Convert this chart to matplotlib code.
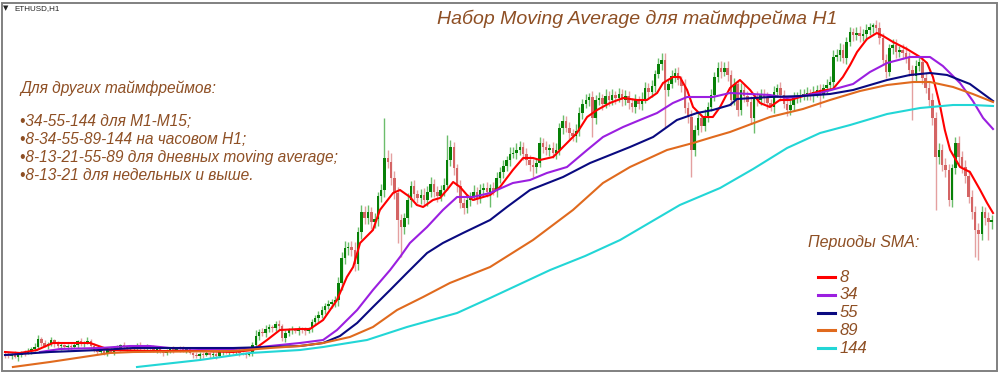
import matplotlib
matplotlib.use('Agg')
import matplotlib.pyplot as plt
from matplotlib.patches import Rectangle
from matplotlib.lines import Line2D

plt.rcParams['font.family'] = ['Liberation Sans', 'DejaVu Sans']

# ---------------- data (price units, one candle per hour) ----------------
first_open = 19
close = [
    18, 17, 19, 16, 18, 21, 20, 22, 24, 26,
    34, 30, 27, 29, 33, 29, 27, 28, 26, 27,
    26, 28, 32, 29, 30, 32, 27, 23, 21, 22,
    20, 23, 21, 24, 25, 28, 26, 24, 25, 26,
    28, 25, 24, 26, 25, 23, 24, 21, 20, 22,
    24, 23, 25, 24, 23, 24, 20, 18, 17, 19,
    18, 20, 18, 19, 17, 21, 22, 21, 23, 21,
    22, 20, 19, 18, 20, 28, 37, 41, 40, 44,
    46, 45, 49, 47, 35, 40, 43, 44, 42, 44,
    43, 42, 45, 51, 55, 58, 63, 67, 69, 71,
    73, 90, 115, 125, 126, 123, 109, 141, 161, 155,
    161, 151, 154, 177, 183, 215, 211, 195, 180, 153,
    146, 155, 173, 187, 179, 175, 178, 173, 181, 189,
    181, 177, 183, 188, 213, 226, 205, 187, 170, 165,
    173, 177, 181, 175, 183, 185, 181, 185, 182, 195,
    201, 207, 213, 219, 220, 223, 226, 219, 213, 208,
    206, 210, 230, 226, 223, 225, 220, 223, 245, 252,
    245, 240, 237, 242, 260, 269, 273, 276, 255, 273,
    275, 269, 277, 273, 278, 275, 279, 273, 277, 270,
    266, 273, 269, 274, 285, 281, 287, 299, 309, 313,
    283, 289, 297, 300, 293, 287, 265, 256, 223, 243,
    255, 247, 257, 266, 278, 296, 305, 301, 305, 298,
    273, 289, 263, 283, 277, 271, 255, 276, 273, 279,
    275, 270, 266, 281, 285, 278, 269, 263, 268, 275,
    277, 278, 279, 280, 277, 281, 283, 279, 285, 288,
    291, 316, 318, 323, 315, 331, 341, 338, 340, 337,
    339, 343, 346, 348, 345, 335, 313, 301, 325, 328,
    321, 323, 320, 315, 303, 297, 307, 311, 295, 285,
    273, 255, 216, 223, 208, 203, 173, 205, 230, 216,
    206, 197, 176, 161, 143, 139, 161, 155, 151, 153,
]

# shadow lengths (price units), one digit per candle
wick_up = "".join([
    "2313212324", "4232313212", "2313242312", "2132313212", "2313132322",
    "2312312132", "2213231312", "2312136344", "3234232313", "2313344343",
    "4667568576", "7564658976", "6575646767", "5657675465", "6475656466",
    "5647676565", "6575646756", "5647656465", "6475646565", "5647656467",
    "7565647675", "6475656767", "5647656465", "5646465656", "4656465646",
    "6767656467", "5646565646", "6467656565", "6767676467", "6767676565",
])
wick_dn = "".join([
    "3231423132", "2313232413", "3132313232", "2313132323", "3231423132",
    "2313231323", "3132413232", "2313133434", "3434343424", "3424343434",
    "5676767676", "6767676767", "6767656565", "5656567656", "5646565646",
    "5656465656", "5646565656", "4656564656", "5646564656", "5656465646",
    "5646565656", "5656465646", "6565646565", "5646564656", "5656465646",
    "5646564656", "5656465646", "6565646565", "6767676767", "6767676767",
])
spike_high = {115: 255, 134: 238, 162: 236, 200: 320, 256: 346, 263: 350}
spike_low = {64: 14, 119: 130, 120: 116, 147: 166, 160: 196, 178: 236,
             200: 246, 208: 196, 227: 240, 247: 266, 275: 253, 282: 163,
             294: 116, 295: 113, 298: 133}

# moving averages: positions (candle index) and values
sma8_at = [0, 4.5, 9.7, 14.5, 25.8, 31.8, 43.9, 59.1, 69.1, 75.2,
           79.4, 83.3, 89.4, 92.4, 96.4, 100.6, 103.6, 105.5, 107.6, 111.5,
           113.6, 117.6, 119.7, 122.7, 124.8, 126.7, 129.7, 131.8, 133.9, 135.8,
           137.9, 140, 141.8, 143.9, 147, 150, 153.9, 157, 160, 162.1,
           166.1, 169.1, 173.3, 176.4, 179.4, 183.3, 187.3, 191.5, 194.5, 197.6,
           199.4, 202.4, 204.5, 206.7, 208.5, 211.5, 214.5, 216.7, 219.7, 222.7,
           225.8, 228.8, 231.8, 234.8, 237.9, 243, 247, 250.9, 253.9, 256.1,
           258.2, 261.2, 264.2, 266.1, 269.1, 273.3, 277.3, 279.4, 281.2, 283.3,
           284.8, 286.4, 289.4, 292.4, 295.5, 297.6, 299.4]
sma8 = [21, 20, 23, 30, 30, 23, 22, 22, 21, 23,
        33, 43, 44, 44, 53, 73, 96, 106, 130, 143,
        163, 180, 183, 176, 168, 166, 173, 175, 183, 191,
        186, 178, 173, 175, 178, 186, 203, 215, 215, 213,
        216, 226, 240, 256, 263, 270, 275, 273, 273, 280,
        290, 296, 296, 283, 266, 256, 256, 266, 285, 293,
        283, 270, 266, 273, 273, 278, 282, 284, 296, 308,
        321, 334, 340, 337, 331, 324, 316, 310, 296, 268,
        243, 223, 206, 201, 183, 170, 160]

sma34_at = [10.6, 16.7, 28.8, 37.9, 43.9, 50, 59.1, 69.1, 75.2, 80.3,
            89.4, 96.4, 100.6, 106.7, 111.5, 116.7, 119.7, 122.7, 127.9, 132.7,
            137, 141.8, 147, 153.9, 159.1, 164.2, 170.3, 176.4, 181.2, 187.3,
            192.4, 197.6, 202.4, 206.7, 210.6, 214.5, 219.7, 231.8, 237, 247,
            257, 262.1, 267.3, 274.2, 280.3, 284.2, 289.4, 293.3, 296.4, 299.4]
sma34 = [21, 24, 25, 27, 27, 25, 24, 24, 25, 27,
         30, 33, 43, 63, 83, 103, 116, 130, 146, 163,
         176, 176, 180, 190, 193, 200, 206, 223, 236, 246,
         253, 260, 270, 276, 276, 276, 280, 278, 275, 280,
         289, 301, 310, 316, 316, 307, 290, 272, 255, 244]

sma55_at = [0, 13.6, 28.8, 38.8, 50, 69.1, 80.3, 89.4, 96.4, 101.5,
            106.7, 111.5, 116.7, 121.8, 127.9, 132.7, 138.8, 147, 152.1, 159.1,
            169.1, 177.3, 189.4, 196.4, 203.6, 209.7, 214.5, 219.7, 221.8, 231.8,
            241.8, 250, 257, 267.3, 274.2, 280.3, 285.5, 292.4, 299.4]
sma55 = [18, 21, 23, 25, 25, 25, 26, 27, 30, 37,
         50, 66, 83, 100, 120, 130, 140, 153, 166, 183,
         196, 210, 226, 236, 253, 260, 263, 268, 274, 276,
         277, 279, 283, 293, 298, 300, 298, 289, 272]

sma89_at = [2.4, 13.6, 31.8, 38.8, 69.1, 80.3, 89.4, 96.4, 104.5, 111.5,
            118.8, 126.7, 134.8, 147, 160, 172.1, 181.2, 189.4, 200.6, 208.5,
            214.5, 219.7, 231.8, 241.8, 250, 259.1, 267.3, 275.2, 280.3, 287.3,
            293.3, 299.4]
sma89 = [6, 11, 20, 21, 22, 25, 27, 30, 36, 46,
         63, 76, 90, 106, 133, 163, 190, 206, 223, 230,
         236, 241, 256, 264, 273, 282, 288, 291, 291, 286,
         279, 271]

sma144_at = [40, 59.1, 74.2, 89.4, 96.4, 109.7, 121.8, 137, 147, 165.2,
             175.8, 186.4, 204.5, 216.7, 226.7, 237, 247, 256.1, 267.3, 277.3,
             287.3, 293.3, 299.4]
sma144 = [6, 13, 20, 23, 26, 33, 46, 60, 75, 103,
          117, 133, 168, 185, 204, 225, 240, 248, 259, 265,
          268, 268, 267]

ma_labels = ["8", "34", "55", "89", "144"]
ma_colors = ["#ff0000", "#9b1fe0", "#0a0a80", "#e06a1e", "#22d6d6"]

title = "Набор Moving Average для таймфрейма H1"
notes = [
    "Для других таймфреймов:",
    "•34-55-144 для M1-M15;",
    "•8-34-55-89-144 на часовом H1;",
    "•8-13-21-55-89 для дневных moving average;",
    "•8-13-21 для недельных и выше.",
]
legend_title = "Периоды SMA:"
symbol = "ETHUSD,H1"

# ---------------- figure ----------------
W, H = 1000, 373
fig = plt.figure(figsize=(W / 100, H / 100), dpi=100)
fig.patch.set_facecolor("white")
ax = fig.add_axes([0, 0, 1, 1])
ax.set_facecolor("white")
step = 3.3
ax.set_xlim(-5 / step, (W - 5) / step)
ax.set_ylim(0, H)
ax.axis("off")

n = len(close)
opens = [first_open] + close[:-1]
bull_c, bear_c = "#078007", "#d46464"
bull_w, bear_w = "#6cbd6c", "#e4a0a0"
for i in range(n):
    o, c = opens[i], close[i]
    hi = max(o, c) + int(wick_up[i])
    lo = min(o, c) - int(wick_dn[i])
    hi = spike_high.get(i, hi)
    lo = spike_low.get(i, lo)
    bull = c >= o
    ax.vlines(i, lo, hi, colors=bull_w if bull else bear_w, lw=1.0, zorder=2)
for i in range(n):
    o, c = opens[i], close[i]
    bull = c >= o
    h = max(abs(c - o), 0.8)
    ax.bar(i, h, bottom=min(o, c), width=0.75,
           color=bull_c if bull else bear_c, linewidth=0, zorder=3)

series = [(sma8_at, sma8), (sma34_at, sma34), (sma55_at, sma55),
          (sma89_at, sma89), (sma144_at, sma144)]
for (px, py), col in zip(series, ma_colors):
    ax.plot(px, py, color=col, lw=1.5, zorder=5, solid_joinstyle="round")

# ---------------- texts ----------------
brown = "#8e4f24"

def ftxt(x, y, s, **kw):
    fig.text(x / W, 1 - y / H, s, **kw)

ftxt(6, 8, "▼", fontsize=5, color="#222222", va="center", ha="center",
     family=["DejaVu Sans"])
ftxt(14, 8.5, symbol, fontsize=5.8, color="#222222", va="center")
ftxt(637, 19, title, fontsize=14, style="italic", color=brown,
     ha="center", va="center")
for s, y in zip(notes, [88, 121, 139, 157, 175]):
    ftxt(20, y, s, fontsize=11.2, style="italic", color=brown, va="center")
ftxt(808, 243, legend_title, fontsize=11.5, style="italic", color=brown,
     va="center")
for k, (lab, col) in enumerate(zip(ma_labels, ma_colors)):
    y = 277 + 17.8 * k
    fig.add_artist(Line2D([818 / W, 835 / W], [1 - y / H, 1 - y / H],
                          color=col, lw=2.2, transform=fig.transFigure))
    ftxt(840, y, lab, fontsize=12, style="italic", color=brown, va="center")

# outer frame
fig.add_artist(Rectangle((2 / W, 2.5 / H), 995 / W, 368 / H, fill=False,
                         edgecolor="#808080", lw=1.4, transform=fig.transFigure))

fig.savefig("out.png", dpi=100, facecolor="white")
